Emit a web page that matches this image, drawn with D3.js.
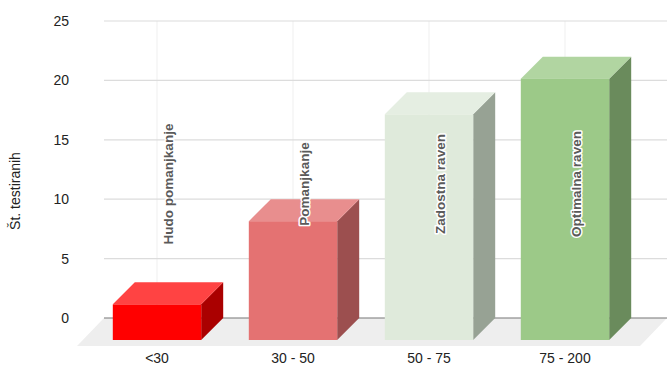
<!DOCTYPE html>
<html>
<head>
<meta charset="utf-8">
<script src="https://cdn.jsdelivr.net/npm/d3@7"></script>
<style>
  body { margin: 0; background: #fff; }
  text { font-family: Arial, "Liberation Sans", sans-serif; }
</style>
</head>
<body>
<script>
// Data
const categories = ['<30', '30 - 50', '50 - 75', '75 - 200'];
const values = [3, 10, 19, 22];
const barLabels = ['Hudo pomanjkanje', 'Pomanjkanje', 'Zadostna raven', 'Optimalna raven'];
const yTicks = [0, 5, 10, 15, 20, 25];
const yTitle = 'Št. testiranih';

// Colours per bar: front, top, side
const frontColors = ['#ff0000', '#e47272', '#dfeadb', '#9cc988'];
const topColors = ['#ff4343', '#e88e8e', '#e5eee2', '#b1d5a1'];
const sideColors = ['#aa0000', '#9c4f4f', '#97a294', '#6a8b5c'];

const width = 667;
const height = 365;
const depth = 22; // 3D offset

const svg = d3.select('body')
  .append('svg')
  .attr('width', width)
  .attr('height', height);

// Scales (y is the back plane, front faces are shifted down by depth)
const y = d3.scaleLinear().domain([0, 25]).range([318, 21]);
const x = d3.scaleBand()
  .domain(categories)
  .range([89, 633])
  .paddingInner(0.35)
  .paddingOuter(0.175);

const gridLeft = 104;
const gridRight = 667;

// Floor
svg.append('polygon')
  .attr('points', [
    [gridLeft, y(0)], [gridRight, y(0)],
    [gridRight - 27, y(0) + 28], [gridLeft - 27, y(0) + 28]
  ].map((p) => p.join(',')).join(' '))
  .attr('fill', '#eeeeee');

// Vertical gridlines
svg.selectAll('.vgrid')
  .data(categories)
  .enter()
  .append('line')
  .attr('class', 'vgrid')
  .attr('x1', (d) => x(d) + x.bandwidth() / 2)
  .attr('x2', (d) => x(d) + x.bandwidth() / 2)
  .attr('y1', y(25))
  .attr('y2', y(0))
  .attr('stroke', '#efefef')
  .attr('stroke-width', 1);

// Horizontal gridlines
svg.selectAll('.hgrid')
  .data(yTicks)
  .enter()
  .append('line')
  .attr('class', 'hgrid')
  .attr('x1', gridLeft)
  .attr('x2', gridRight)
  .attr('y1', (d) => y(d))
  .attr('y2', (d) => y(d))
  .attr('stroke', (d) => (d === 0 ? '#777' : '#dcdcdc'))
  .attr('stroke-width', 1.2);

// Y tick labels
svg.selectAll('.ytick')
  .data(yTicks)
  .enter()
  .append('text')
  .attr('class', 'ytick')
  .attr('x', 69)
  .attr('y', (d) => y(d))
  .attr('dy', '0.35em')
  .attr('text-anchor', 'end')
  .attr('font-size', '14px')
  .attr('fill', '#222')
  .text((d) => d);

// Y title
svg.append('text')
  .attr('transform', 'translate(20,191) rotate(-90)')
  .attr('text-anchor', 'middle')
  .attr('font-size', '14px')
  .attr('fill', '#222')
  .text(yTitle);

// 3D bars
const bars = svg.selectAll('.bar')
  .data(values)
  .enter()
  .append('g')
  .attr('class', 'bar');

const fx = (i) => x(categories[i]);
const fyTop = (d) => y(d) + depth;
const fyBase = y(0) + depth;

// side face
bars.append('polygon')
  .attr('points', (d, i) => {
    const r = fx(i) + x.bandwidth();
    return [
      [r, fyTop(d)], [r + depth, fyTop(d) - depth],
      [r + depth, fyBase - depth], [r, fyBase]
    ].map((p) => p.join(',')).join(' ');
  })
  .attr('fill', (d, i) => sideColors[i]);

// top face
bars.append('polygon')
  .attr('points', (d, i) => {
    const l = fx(i);
    const r = l + x.bandwidth();
    return [
      [l, fyTop(d)], [l + depth, fyTop(d) - depth],
      [r + depth, fyTop(d) - depth], [r, fyTop(d)]
    ].map((p) => p.join(',')).join(' ');
  })
  .attr('fill', (d, i) => topColors[i]);

// front face
bars.append('rect')
  .attr('x', (d, i) => fx(i))
  .attr('y', (d) => fyTop(d))
  .attr('width', x.bandwidth())
  .attr('height', (d) => fyBase - fyTop(d))
  .attr('fill', (d, i) => frontColors[i]);

// Category labels
svg.selectAll('.xlabel')
  .data(categories)
  .enter()
  .append('text')
  .attr('class', 'xlabel')
  .attr('x', (d) => x(d) + x.bandwidth() / 2)
  .attr('y', 363)
  .attr('text-anchor', 'middle')
  .attr('font-size', '14px')
  .attr('fill', '#222')
  .text((d) => d);

// Bar annotations (rotated, with white halo)
const labelY = 184;
svg.selectAll('.blabel')
  .data(barLabels)
  .enter()
  .append('text')
  .attr('class', 'blabel')
  .attr('transform', (d, i) =>
    `translate(${fx(i) + x.bandwidth() / 2 + depth / 2},${labelY}) rotate(-90)`)
  .attr('text-anchor', 'middle')
  .attr('dy', '0.35em')
  .attr('font-size', '13.5px')
  .attr('font-weight', 'bold')
  .attr('fill', '#5a5a5a')
  .attr('stroke', '#fff')
  .attr('stroke-width', 3)
  .attr('stroke-linejoin', 'round')
  .attr('paint-order', 'stroke')
  .text((d) => d);
</script>
</body>
</html>
